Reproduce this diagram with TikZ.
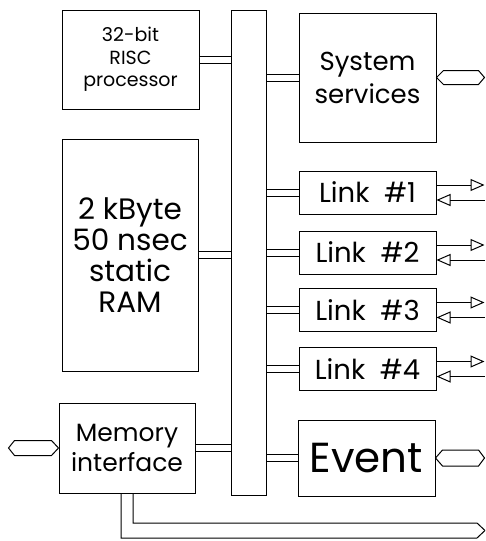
\documentclass[tikz,border=0pt]{standalone}
\usepackage{fontspec}
\setmainfont{Poppins}
\usetikzlibrary{arrows.meta}
\begin{document}
\begin{tikzpicture}[x=1pt,y=-1pt,line width=1pt,
  blk/.style={draw,line width=1pt,inner sep=0pt,align=center,minimum width=137pt},
  dbl/.style={double,double distance=6pt,line width=1pt},
  hexl/.style={line width=1pt},
  outarr/.style={line width=1pt,-{Triangle[open,length=14pt,width=12pt]}},
  fcpu/.style={font=\fontsize{19}{22.5}\selectfont},
  fsys/.style={font=\fontsize{26}{33}\selectfont},
  fram/.style={font=\fontsize{29.5}{31}\selectfont},
  fmem/.style={font=\fontsize{25}{30}\selectfont},
  flink/.style={font=\fontsize{27.5}{28}\selectfont},
  fev/.style={font=\fontsize{42}{46}\selectfont}]
\useasboundingbox (0,0) rectangle (485,541);
% blocks
\node[blk,fcpu,minimum height=99pt] (cpu) at (130.5,59.5) {32-bit\\RISC\\processor};
\node[blk,fram,minimum width=136pt,minimum height=232pt] (ram) at (130,255) {2 kByte\\50 nsec\\static\\RAM};
\node[blk,fmem,minimum width=136pt,minimum height=90pt] (mem) at (127,448) {Memory\\interface};
\node[blk,minimum width=35pt,minimum height=485pt] (bus) at (248.5,252.5) {};
\node[blk,fsys,minimum height=129pt] (sys) at (367.5,77.5) {System\\services};
\node[blk,flink,minimum height=43pt] (l1) at (367.5,192.5) {Link\ \ \#1};
\node[blk,flink,minimum height=43pt] (l2) at (367.5,252.5) {Link\ \ \#2};
\node[blk,flink,minimum height=43pt] (l3) at (367.5,310) {Link\ \ \#3};
\node[blk,flink,minimum height=43pt] (l4) at (367.5,369) {Link\ \ \#4};
\node[blk,fev,minimum height=76pt] (ev) at (366.5,458) {Event};
% bus connections
\draw[dbl] (cpu.east) -- (cpu.east -| bus.west);
\draw[dbl] (ram.east) -- (ram.east -| bus.west);
\draw[dbl] (mem.east) -- (mem.east -| bus.west);
\foreach \n in {sys,l1,l2,l3,l4,ev}
  \draw[dbl] (\n.west) -- (\n.west -| bus.east);
% hexagonal external ports
\draw[hexl] (sys.east) -- ++(7,-7) -- ++(35,0) -- ++(6,7) -- ++(-6,7) -- ++(-35,0) -- cycle;
\draw[hexl] (ev.east) -- ++(7,-8) -- ++(36,0) -- ++(6,8) -- ++(-6,8) -- ++(-36,0) -- cycle;
\draw[hexl] (mem.west) -- ++(-7,-7.5) -- ++(-37,0) -- ++(-6,7.5) -- ++(6,7.5) -- ++(37,0) -- cycle;
% link serial lines
\foreach \n in {l1,l2,l3,l4}{
  \draw[outarr] ([yshift=7.5pt]\n.east) -- ++(48,0);
  \draw[outarr] ([yshift=-7.5pt,xshift=48pt]\n.east) -- ([yshift=-7.5pt]\n.east);
}
% external memory bus
\coordinate (mtip) at (485,530.5);
\draw ([xshift=-6pt]mem.south) |- ([xshift=-8pt,yshift=-7.5pt]mtip) -- (mtip);
\draw ([xshift=6pt]mem.south) |- ([xshift=-8pt,yshift=7.5pt]mtip) -- (mtip);
\end{tikzpicture}
\end{document}
